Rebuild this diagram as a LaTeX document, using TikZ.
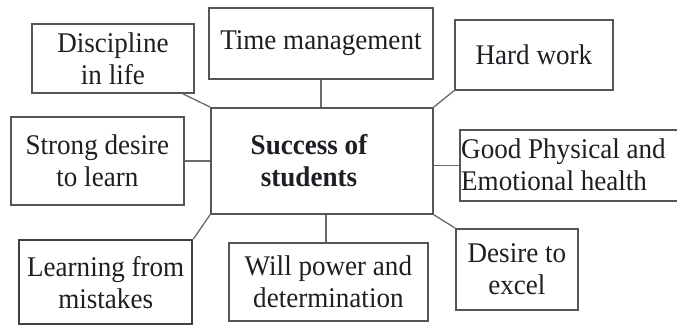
\documentclass[tikz,border=0pt]{standalone}
\usepackage{fontspec}
\setmainfont{Liberation Serif}[FakeStretch=0.95]
\usetikzlibrary{calc}
\definecolor{boxline}{HTML}{555555}
\definecolor{conline}{HTML}{6A6A6A}
\definecolor{txt}{HTML}{1E1E24}
\tikzset{
  box/.style={draw=boxline, line width=1.8pt, fill=white, anchor=north west, inner sep=0pt,
    align=center, text=txt, font=\fontsize{28.5}{32}\selectfont},
  lbl/.style={text=txt, font=\fontsize{28.5}{32}\selectfont, inner sep=0pt},
  conn/.style={draw=conline, line width=1.3pt},
}
\begin{document}
\begin{tikzpicture}[x=1pt,y=-1pt]
\useasboundingbox[fill=white] (0,0) rectangle (677,326);
% boxes
\node[box, minimum width=162pt, minimum height=69pt] (disc) at (31,23) {Discipline\\in life};
\node[box, minimum width=224pt, minimum height=71pt] (time) at (208,7) {Time management};
\node[box, minimum width=158pt, minimum height=70pt] (hard) at (454,19) {Hard work};
\node[box, minimum width=222pt, minimum height=106pt] (center) at (210,107) {};
\node[lbl, font=\fontsize{28.5}{32}\selectfont\bfseries, align=center] (ctext) at (309,161) {Success of\\students};
\node[box, minimum width=173pt, minimum height=88pt] (strong) at (10,116) {Strong desire\\to learn};
\node[box, minimum width=232pt, minimum height=71pt] (good) at (459,129) {};
\node[lbl, align=left, anchor=west] (goodtext) at (461,165) {Good Physical and\\Emotional health};
\node[box, line width=2.4pt, draw=black!75, minimum width=173pt, minimum height=84pt] (learn) at (18,239) {Learning from\\mistakes};
\node[box, minimum width=199pt, minimum height=78pt] (will) at (228,242) {Will power and\\determination};
\node[box, minimum width=122pt, minimum height=81pt] (excel) at (455,228) {Desire to\\excel};
% connectors
\draw[conn] ([xshift=-12pt]disc.south east) -- (center.north west);
\draw[conn] (time.south) -- (time.south |- center.north);
\draw[conn] (hard.south west) -- (center.north east);
\draw[conn] (strong.east) -- (strong.east -| center.west);
\draw[conn] (good.west) -- (good.west -| center.east);
\draw[conn] (center.south west) -- (learn.north east);
\draw[conn] ([xshift=-2.5pt]will.north |- center.south) -- ([xshift=-2.5pt]will.north);
\draw[conn] (center.south east) -- (excel.north west);
\end{tikzpicture}
\end{document}
